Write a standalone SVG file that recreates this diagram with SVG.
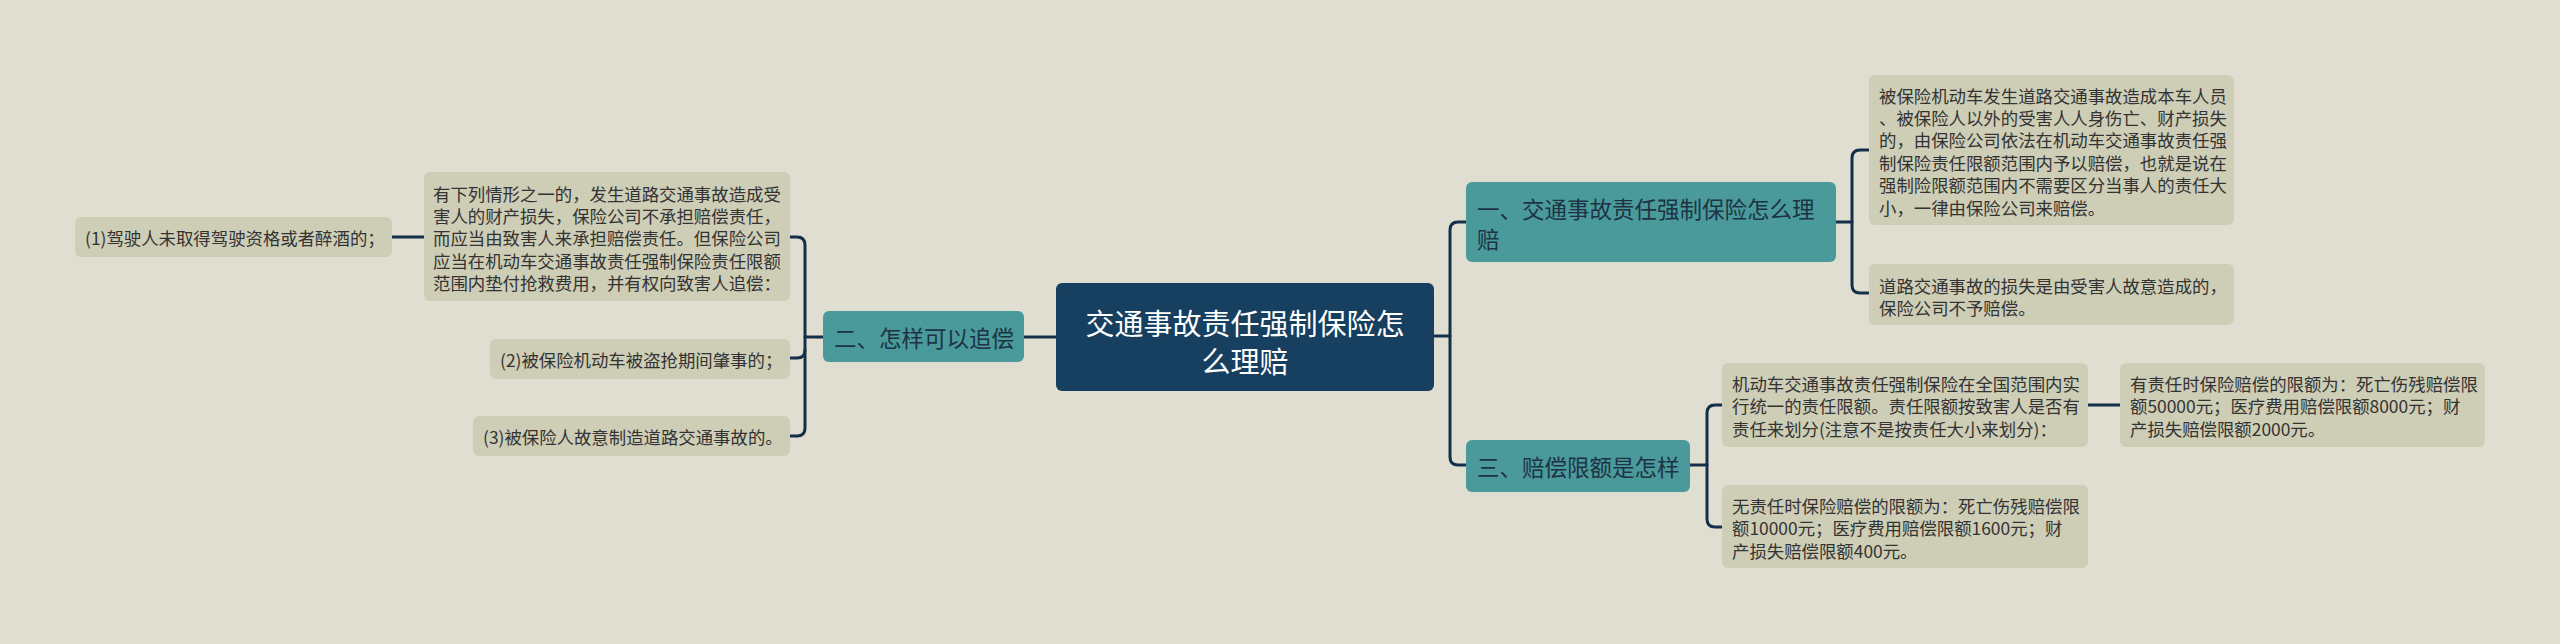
<svg xmlns="http://www.w3.org/2000/svg" width="2560" height="644" viewBox="0 0 2560 644">
<style>
.bg{fill:#e0ded0}
.center rect{fill:#173f5f}
.center text{fill:#ffffff;font-size:29px;text-anchor:middle}
.branch rect{fill:#4a9a9b}
.branch text{fill:#1d3344;font-size:22.5px}
.leaf rect{fill:#cecdb6}
.leaf text{fill:#333333;font-size:17.4px}
text{font-family:"Noto Sans CJK SC","Noto Sans",sans-serif;dominant-baseline:central}
.conn path{fill:none;stroke:#142f4a;stroke-width:3;stroke-linecap:round}
</style>
<rect class="bg" x="0" y="0" width="2560" height="644"/>
<g class="conn" id="connectors">
<path d="M1434 336 H1450"/>
<path d="M1466 222 H1458 Q1450 222 1450 230 V457 Q1450 465 1458 465 H1466"/>
<path d="M1836 222 H1852"/>
<path d="M1869 150 H1860 Q1852 150 1852 158 V285 Q1852 293 1860 293 H1869"/>
<path d="M1690 465 H1707"/>
<path d="M1722 405 H1715 Q1707 405 1707 413 V519 Q1707 527 1715 527 H1722"/>
<path d="M2088 405 H2120"/>
<path d="M1024 337 H1056"/>
<path d="M823 337 H805"/>
<path d="M790 237 H797 Q805 237 805 245 V428 Q805 436 797 436 H790"/>
<path d="M790 358 H797 Q805 358 805 350"/>
<path d="M392 237 H424"/>
</g>
<g id="center" class="center">
<rect x="1056" y="283" width="378" height="108" rx="6"/>
<text x="1245" y="322">交通事故责任强制保险怎</text>
<text x="1245" y="360">么理赔</text>
</g>
<g id="branch1" class="branch">
<rect x="1466" y="182" width="370" height="80" rx="6"/>
<text x="1477" y="208">一、交通事故责任强制保险怎么理</text>
<text x="1477" y="238">赔</text>
</g>
<g id="branch3" class="branch">
<rect x="1466" y="440" width="224" height="52" rx="6"/>
<text x="1477" y="466">三、赔偿限额是怎样</text>
</g>
<g id="branch2" class="branch">
<rect x="823" y="311" width="201" height="51" rx="6"/>
<text x="834" y="337">二、怎样可以追偿</text>
</g>
<g id="leaf1a" class="leaf">
<rect x="1869" y="75" width="365" height="150" rx="6"/>
<text x="1879" y="95">被保险机动车发生道路交通事故造成本车人员</text>
<text x="1879" y="117.4">、被保险人以外的受害人人身伤亡、财产损失</text>
<text x="1879" y="139.8">的，由保险公司依法在机动车交通事故责任强</text>
<text x="1879" y="162.2">制保险责任限额范围内予以赔偿，也就是说在</text>
<text x="1879" y="184.6">强制险限额范围内不需要区分当事人的责任大</text>
<text x="1879" y="207">小，一律由保险公司来赔偿。</text>
</g>
<g id="leaf1b" class="leaf">
<rect x="1869" y="264" width="365" height="61" rx="6"/>
<text x="1879" y="285">道路交通事故的损失是由受害人故意造成的，</text>
<text x="1879" y="307">保险公司不予赔偿。</text>
</g>
<g id="leaf3a" class="leaf">
<rect x="1722" y="363" width="366" height="84" rx="6"/>
<text x="1732" y="383">机动车交通事故责任强制保险在全国范围内实</text>
<text x="1732" y="405.5">行统一的责任限额。责任限额按致害人是否有</text>
<text x="1732" y="428">责任来划分(注意不是按责任大小来划分)：</text>
</g>
<g id="leaf3a1" class="leaf">
<rect x="2120" y="363" width="365" height="84" rx="6"/>
<text x="2130" y="383">有责任时保险赔偿的限额为：死亡伤残赔偿限</text>
<text x="2130" y="405.5">额50000元；医疗费用赔偿限额8000元；财</text>
<text x="2130" y="428">产损失赔偿限额2000元。</text>
</g>
<g id="leaf3b" class="leaf">
<rect x="1722" y="485" width="366" height="83" rx="6"/>
<text x="1732" y="505">无责任时保险赔偿的限额为：死亡伤残赔偿限</text>
<text x="1732" y="527.5">额10000元；医疗费用赔偿限额1600元；财</text>
<text x="1732" y="550">产损失赔偿限额400元。</text>
</g>
<g id="leaf2a" class="leaf">
<rect x="424" y="172" width="366" height="129" rx="6"/>
<text x="433" y="193">有下列情形之一的，发生道路交通事故造成受</text>
<text x="433" y="215">害人的财产损失，保险公司不承担赔偿责任，</text>
<text x="433" y="237.5">而应当由致害人来承担赔偿责任。但保险公司</text>
<text x="433" y="260">应当在机动车交通事故责任强制保险责任限额</text>
<text x="433" y="282">范围内垫付抢救费用，并有权向致害人追偿：</text>
</g>
<g id="leaf2b" class="leaf">
<rect x="490" y="339" width="300" height="40" rx="6"/>
<text x="500" y="359">(2)被保险机动车被盗抢期间肇事的；</text>
</g>
<g id="leaf2c" class="leaf">
<rect x="473" y="416" width="317" height="40" rx="6"/>
<text x="483" y="436">(3)被保险人故意制造道路交通事故的。</text>
</g>
<g id="leaf2a1" class="leaf">
<rect x="75" y="217" width="317" height="40" rx="6"/>
<text x="85" y="237">(1)驾驶人未取得驾驶资格或者醉酒的；</text>
</g>
</svg>
